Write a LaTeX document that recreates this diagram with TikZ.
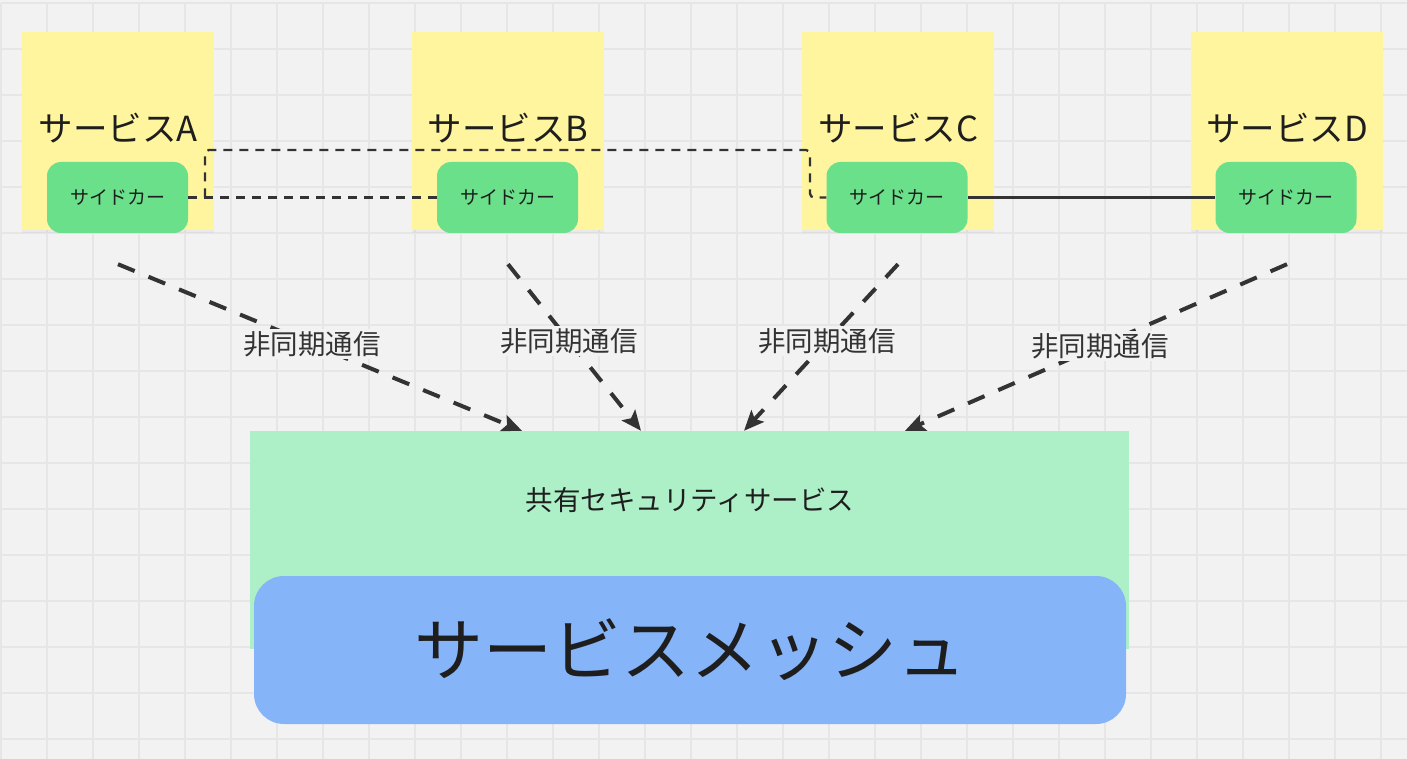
\documentclass[tikz,border=0pt]{standalone}
\usepackage{fontspec}
\setmainfont{Noto Sans CJK JP}
\usetikzlibrary{arrows.meta, positioning, shadows}
\definecolor{canvas}{HTML}{F2F2F2}
\definecolor{gridgray}{HTML}{E6E6E6}
\definecolor{noteyellow}{HTML}{FFF59E}
\definecolor{cargreen}{HTML}{6BE08B}
\definecolor{secgreen}{HTML}{ADF0C8}
\definecolor{meshblue}{HTML}{86B4F8}
\definecolor{ink}{HTML}{1E1E1E}
\definecolor{wire}{HTML}{333333}
\tikzstyle{note} = [rectangle, fill=noteyellow, minimum width=192pt, minimum height=198pt, drop shadow={shadow xshift=0pt, shadow yshift=-3pt, opacity=0.08}]
\tikzstyle{title} = [text=ink, font=\fontsize{34.5}{40}\selectfont]
\tikzstyle{car} = [rectangle, rounded corners=14pt, fill=cargreen, minimum width=141pt, minimum height=71pt, text=ink, font=\fontsize{19}{22}\selectfont]
\tikzstyle{link} = [draw=wire, line width=2.3pt, dash pattern=on 9pt off 7pt]
\tikzstyle{wireline} = [draw=wire, line width=2.3pt]
\tikzstyle{async} = [draw=wire, line width=4pt, dash pattern=on 18pt off 15pt, -{Stealth[length=20pt,width=17pt,inset=4pt]}]
\tikzstyle{tag} = [fill=canvas, text=wire, font=\fontsize{27.5}{32}\selectfont, inner sep=2pt]

\begin{document}
\begin{tikzpicture}[x=1pt,y=-1pt]

\useasboundingbox (0,0) rectangle (1407,759);
\fill[canvas] (0,0) rectangle (1407,759);
\begin{scope}[shift={(1,3)}]
\draw[gridgray, line width=1.2pt, step=46pt] (0,0) grid (1406,756);
\end{scope}

% services
\node (noteA) [note] at (118,131) {};
\node (noteB) [note] at (508,131) {};
\node (noteC) [note] at (898,131) {};
\node (noteD) [note] at (1287,131) {};
\node (titleA) [title] at (118,128) {サービスA};
\node (titleB) [title] at (508,128) {サービスB};
\node (titleC) [title] at (898,128) {サービスC};
\node (titleD) [title] at (1287,128) {サービスD};

% sidecars
\node (carA) [car] at (117.5,197.5) {サイドカー};
\node (carB) [car] at (507.5,197.5) {サイドカー};
\node (carC) [car] at (897,197.5) {サイドカー};
\node (carD) [car] at (1286,197.5) {サイドカー};

% shared layer
\node (shared) [rectangle, fill=secgreen, minimum width=879pt, minimum height=218pt] at (689.5,540) {};
\node (sharedlabel) [text=ink, font=\fontsize{27.5}{32}\selectfont] at (690,500) {共有セキュリティサービス};
\node (mesh) [rectangle, rounded corners=30pt, fill=meshblue, minimum width=872pt, minimum height=148pt, text=ink, font=\fontsize{69}{80}\selectfont] at (690,650) {サービスメッシュ};

% sidecar links
\coordinate (tapA) at (205,197.5);
\coordinate (tapC) at (810,197.5);
\draw [link] (carA) -- (carB);
\draw [link, rounded corners=4pt] (tapA) -- (205,150) -- (810,150) -- (tapC) -- (carC.west);
\draw [wireline] (carC) -- (carD);

% async calls
\coordinate [below=34pt of noteA] (srcA);
\coordinate [below=34pt of noteB] (srcB);
\coordinate [below=34pt of noteC] (srcC);
\coordinate [below=34pt of noteD] (srcD);
\draw [async] (srcA) -- node (asyncA) [tag, pos=0.48] {非同期通信} (522,0 |- shared.north);
\draw [async] (srcB) -- node (asyncB) [tag, pos=0.46] {非同期通信} (641,0 |- shared.north);
\draw [async] (srcC) -- node (asyncC) [tag, pos=0.46] {非同期通信} (744,0 |- shared.north);
\draw [async] (srcD) -- node (asyncD) [tag, pos=0.49] {非同期通信} (905,0 |- shared.north);

\end{tikzpicture}
\end{document}
